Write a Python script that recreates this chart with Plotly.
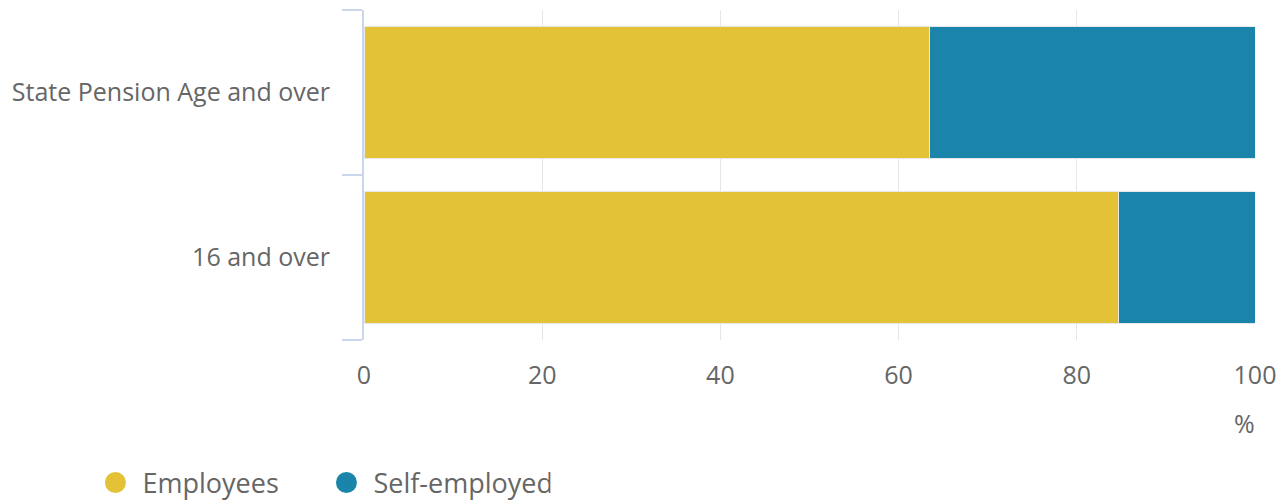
import plotly.graph_objects as go

categories = ["16 and over", "State Pension Age and over"]
employees = [84.7, 63.5]
self_employed = [15.3, 36.5]
x_ticks = [0, 20, 40, 60, 80, 100]

YELLOW = "#E3C238"
BLUE = "#1A84AB"
FONT = "Open Sans"
GREY = "#666666"

fig = go.Figure()
fig.add_trace(go.Bar(y=categories, x=employees, orientation="h", name="Employees",
                     marker=dict(color=YELLOW, line=dict(color="#e8e8e8", width=1)),
                     showlegend=False))
fig.add_trace(go.Bar(y=categories, x=self_employed, orientation="h", name="Self-employed",
                     marker=dict(color=BLUE, line=dict(color="#e8e8e8", width=1)),
                     showlegend=False))
for name, col in [("Employees", YELLOW), ("Self-employed", BLUE)]:
    fig.add_trace(go.Scatter(x=[None], y=[None], mode="markers", name=name,
                             marker=dict(symbol="circle", size=16, color=col,
                                         line=dict(color=col, width=10))))

fig.update_layout(
    width=1277, height=494,
    barmode="stack", bargap=0.2,
    plot_bgcolor="white", paper_bgcolor="white",
    font=dict(family=FONT, color=GREY, size=25),
    margin=dict(l=356, r=30, t=2, b=162, autoexpand=False),
    xaxis=dict(range=[0, 100], tickvals=x_ticks, showgrid=True, gridcolor="#e6e6e6",
               gridwidth=1, zeroline=False, showline=False, ticks="",
               tickfont=dict(size=25, color=GREY), ticklabelstandoff=18),
    yaxis=dict(categoryorder="array", categoryarray=categories, showline=True,
               linecolor="#ccd6eb", linewidth=2, ticks="outside", ticklen=20,
               tickcolor="#ccd6eb", tickwidth=2, tickson="boundaries",
               tickfont=dict(size=25, color=GREY), showgrid=False,
               ticklabelstandoff=27),
    legend=dict(orientation="h", xref="container", yref="container",
                x=0.063, y=0.0385, xanchor="left", yanchor="middle",
                font=dict(size=27, color=GREY), itemsizing="trace", itemwidth=44,
                traceorder="normal", entrywidth=172, tracegroupgap=0),
    annotations=[dict(text="%", xref="paper", yref="paper", x=0.9877, y=-0.252,
                      xanchor="center", yanchor="middle", showarrow=False,
                      font=dict(size=25, color=GREY))],
)

fig.write_html("out.html")
